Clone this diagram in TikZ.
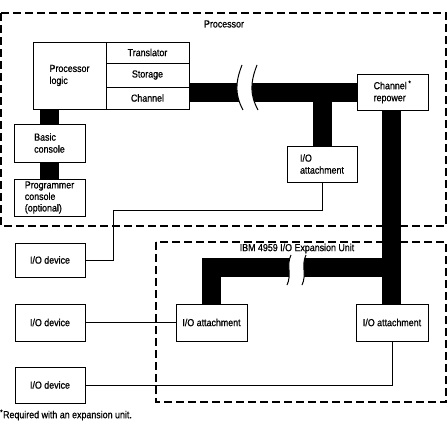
\documentclass[tikz,border=0pt]{standalone}
\usepackage{fontspec}
\setmainfont[FakeStretch=0.87,FakeBold=0.8]{Liberation Sans}
\begin{document}
\begin{tikzpicture}[x=1pt,y=-1pt,
  box/.style={draw, line width=1pt, inner sep=0pt, align=left, font=\fontsize{10.2}{12}\selectfont},
  ctext/.style={draw, line width=1pt, inner sep=0pt, align=center, font=\fontsize{10.2}{12}\selectfont},
  bus/.style={line width=19pt, line cap=butt},
  wire/.style={line width=1pt},
  frame/.style={line width=1.5pt, dash pattern=on 8pt off 4pt},
  lbl/.style={font=\fontsize{10.2}{12}\selectfont, inner sep=0pt}]
\useasboundingbox (0,0) rectangle (448,423);

% dashed frames
\draw[frame] (1,13) rectangle (446,226);
\draw[frame] (156,242) rectangle (446,402);
\node[lbl] (ptitle) at (224,24) {Processor};
\node[lbl] (etitle) at (297,248.5) {IBM 4959 I/O Expansion Unit};

% processor blocks
\node[box, minimum width=73pt, minimum height=67pt] (logic) at (69.5,75.5) {Processor\\logic};
\node[ctext, minimum width=83pt, minimum height=21pt] (trans) at (147.5,52.5) {Translator};
\node[ctext, minimum width=83pt, minimum height=24pt] (stor) at (147.5,75) {Storage};
\node[ctext, minimum width=83pt, minimum height=22pt] (chan) at (147.5,98) {Channel};
\node[box, minimum width=71pt, minimum height=38pt] (basic) at (49.5,143) {Basic\\console};
\node[box, minimum width=71pt, minimum height=37pt, font=\fontsize{10.2}{11.5}\selectfont] (prog) at (49.5,197.5) {Programmer\\console\\(optional)};
\node[box, minimum width=71pt, minimum height=36pt] (repow) at (392.5,92) {Channel\,\textsuperscript{*}\\repower};
\node[box, minimum width=70pt, minimum height=36pt] (ioa1) at (322,164) {I/O\\attachment};

% I/O devices
\node[ctext, minimum width=70pt, minimum height=34pt] (dev1) at (50,260) {I/O device};
\node[ctext, minimum width=70pt, minimum height=37pt] (dev2) at (50,322.5) {I/O device};
\node[ctext, minimum width=70pt, minimum height=36pt] (dev3) at (50,385) {I/O device};

% expansion unit attachments
\node[ctext, minimum width=71pt, minimum height=37pt] (ioa2) at (211.5,322.5) {I/O attachment};
\node[ctext, minimum width=72pt, minimum height=37pt] (ioa3) at (392,322.5) {I/O attachment};

% thick buses
\coordinate (pb) at (0,92);
\coordinate (eb) at (0,267);
\draw[bus] (chan.east |- pb) -- (repow.west);
\draw[bus] (ioa1.north |- pb) -- (ioa1.north);
\draw[bus] (logic.south -| basic.north) -- (basic.north);
\draw[bus] (basic.south) -- (prog.north);
\draw[bus] ([xshift=-1pt]repow.south) -- ([xshift=-0.5pt]ioa3.north);
\draw[bus, line join=miter] (ioa2.north) -- (ioa2.north |- eb) -- ([xshift=-0.5pt]ioa3.north |- eb);

% break marks, processor bus
\begin{scope}
  \clip (225,82) rectangle (270,102);
  \fill[white] (242,65) .. controls (235,83) and (235,95) .. (243,110) -- (258,110) .. controls (250,95) and (250,83) .. (257,65) -- cycle;
\end{scope}
\draw[wire] (242,65) .. controls (235,83) and (235,95) .. (243,110);
\draw[wire] (257,65) .. controls (250,83) and (250,95) .. (258,110);

% break marks, expansion bus
\begin{scope}
  \clip (275,257) rectangle (320,277);
  \fill[white] (291,255) .. controls (286,265) and (292,275) .. (287,285) -- (302,285) .. controls (307,275) and (301,265) .. (306,255) -- cycle;
\end{scope}
\draw[wire] (291,255) .. controls (286,265) and (292,275) .. (287,285);
\draw[wire] (306,255) .. controls (301,265) and (307,275) .. (302,285);

% thin connections
\coordinate (j1) at (113,210);
\draw[wire] (ioa1.south) |- (j1) |- (dev1.east);
\draw[wire] (dev2.east) -- (ioa2.west);
\draw[wire] (dev3.east) -| (ioa3.south);

% footnote
\node[lbl, anchor=west] (foot) at (0,415) {\textsuperscript{*}Required with an expansion unit.};
\end{tikzpicture}
\end{document}
